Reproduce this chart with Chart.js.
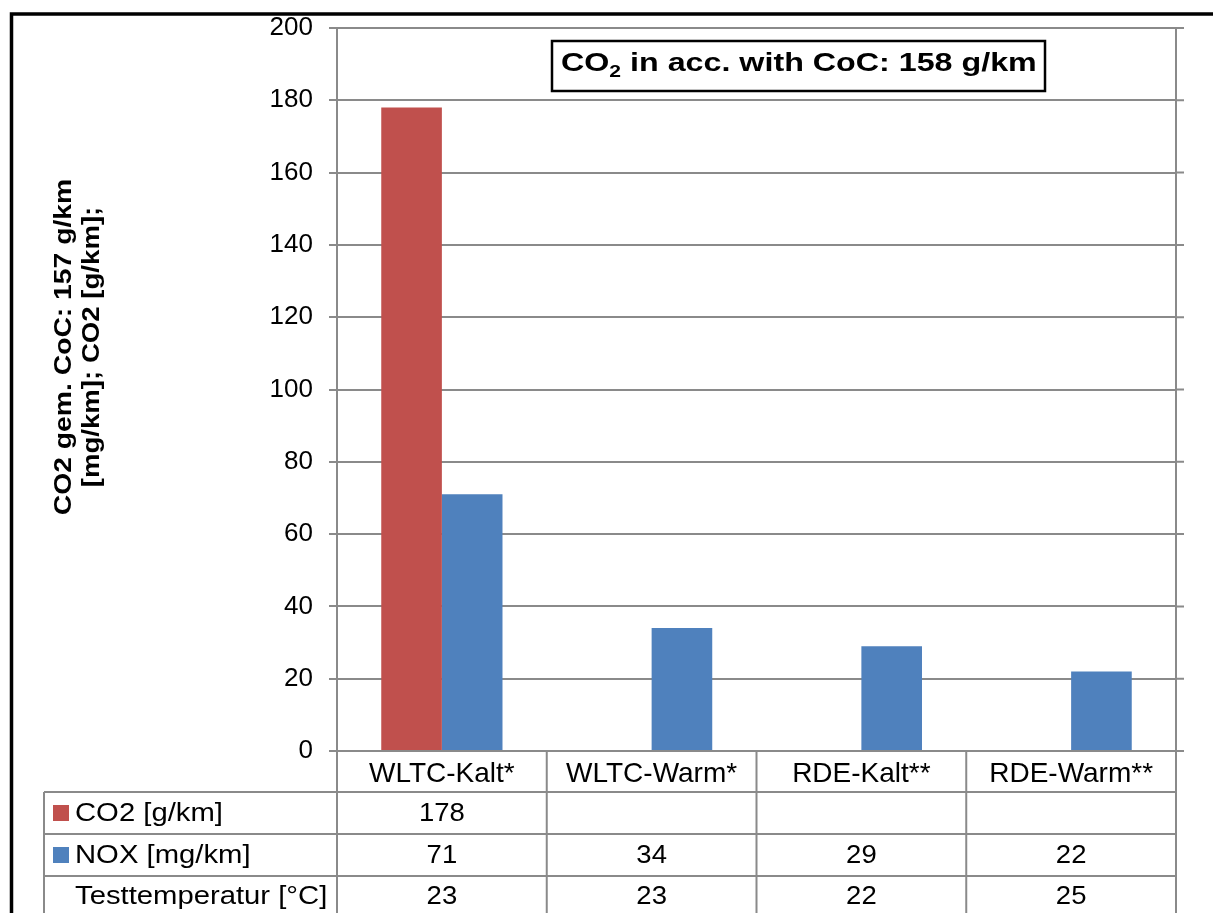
<!DOCTYPE html>
<html>
<head>
<meta charset="utf-8">
<script src="https://cdn.jsdelivr.net/npm/chart.js@4.4.1/dist/chart.umd.min.js"></script>
<style>
  html, body { margin: 0; padding: 0; background: #fff; }
  canvas { display: block; }
</style>
</head>
<body>
<canvas id="chart" width="1213" height="913"></canvas>
<script>
  // ======= Data =======
  const categories = ["WLTC-Kalt*", "WLTC-Warm*", "RDE-Kalt**", "RDE-Warm**"];
  const co2Values  = [178, null, null, null];   // CO2 [g/km]
  const noxValues  = [71, 34, 29, 22];          // NOX [mg/km]
  const testTemps  = [23, 23, 22, 25];          // Testtemperatur [°C]
  const seriesNames = ["CO2 [g/km]", "NOX [mg/km]", "Testtemperatur [°C]"];
  const yAxisTitle = ["CO2 gem. CoC: 157 g/km", "[mg/km]; CO2 [g/km];"];
  const Y_MIN = 0, Y_MAX = 200, Y_STEP = 20;

  // ======= Style =======
  const FONT = "Arial, 'Liberation Sans', sans-serif";
  const RED = "#C0504D";
  const BLUE = "#4F81BD";
  const GRID = "#8a8a8a";

  // text drawn a little wider, like the source picture
  function wideText(ctx, text, x, y, align, sx) {
    ctx.save();
    ctx.translate(x, y);
    ctx.scale(sx, 1);
    ctx.textAlign = align;
    ctx.fillText(text, 0, 0);
    const w = ctx.measureText(text).width * sx;
    ctx.restore();
    return w;
  }

  // Draws frame, data table, axis title and CoC note around the bars
  const extras = {
    id: "extras",
    afterDraw(chart) {
      const { ctx, chartArea: a, scales: { x } } = chart;
      const H = chart.height;
      const colW = (a.right - a.left) / categories.length;
      const rows = [a.bottom, 792, 834, 876];

      ctx.save();
      // outer black frame (cropped)
      ctx.strokeStyle = "#000";
      ctx.lineWidth = 3.5;
      ctx.beginPath();
      ctx.moveTo(1213, 14);
      ctx.lineTo(11.5, 14);
      ctx.lineTo(11.5, H);
      ctx.stroke();

      // right plot border + gridline stubs on the right
      ctx.strokeStyle = GRID;
      ctx.lineWidth = 2;
      ctx.beginPath();
      ctx.moveTo(a.right, a.top);
      ctx.lineTo(a.right, H);
      for (let v = Y_MIN; v <= Y_MAX; v += Y_STEP) {
        const y = chart.scales.y.getPixelForValue(v);
        ctx.moveTo(a.right, y);
        ctx.lineTo(a.right + 8, y);
      }
      // table verticals
      for (let i = 0; i < categories.length; i++) {
        const xl = a.left + i * colW;
        ctx.moveTo(xl, a.bottom);
        ctx.lineTo(xl, H);
      }
      // table horizontals
      for (let r = 1; r < rows.length; r++) {
        ctx.moveTo(44, rows[r]);
        ctx.lineTo(a.right, rows[r]);
      }
      ctx.moveTo(44, rows[1]);
      ctx.lineTo(44, H);
      ctx.stroke();

      // row labels with legend keys
      ctx.font = "25px " + FONT;
      ctx.fillStyle = "#000";
      ctx.textBaseline = "middle";
      const rowMid = [813, 855, 896];
      const keys = [RED, BLUE, null];
      seriesNames.forEach((name, i) => {
        if (keys[i]) {
          ctx.fillStyle = keys[i];
          ctx.fillRect(53, rowMid[i] - 8, 16, 16);
        }
        ctx.fillStyle = "#000";
        wideText(ctx, name, 75, rowMid[i] + 1, "left", 1.17);
      });

      // cell values
      const tableRows = [co2Values, noxValues, testTemps];
      tableRows.forEach((vals, r) => {
        vals.forEach((v, i) => {
          if (v === null) return;
          wideText(ctx, String(v), x.getPixelForValue(i), rowMid[r] + 1, "center", 1.1);
        });
      });

      // y-axis title (two rotated lines)
      ctx.save();
      ctx.translate(0, 347);
      ctx.rotate(-Math.PI / 2);
      ctx.font = "bold 23px " + FONT;
      ctx.textBaseline = "middle";
      wideText(ctx, yAxisTitle[0], 0, 65, "center", 1.23);
      wideText(ctx, yAxisTitle[1], 0, 93, "center", 1.2);
      ctx.restore();

      // CoC note box
      ctx.strokeStyle = "#000";
      ctx.lineWidth = 2.5;
      ctx.fillStyle = "#fff";
      ctx.fillRect(552, 41, 493, 50);
      ctx.strokeRect(552, 41, 493, 50);
      ctx.fillStyle = "#000";
      ctx.textBaseline = "alphabetic";
      const sx = 1.24;
      let tx = 561;
      ctx.font = "bold 26px " + FONT;
      tx += wideText(ctx, "CO", tx, 71, "left", sx);
      ctx.font = "bold 17px " + FONT;
      tx += wideText(ctx, "2", tx, 77, "left", sx);
      ctx.font = "bold 26px " + FONT;
      wideText(ctx, " in acc. with CoC: 158 g/km", tx, 71, "left", sx);
      ctx.restore();
    }
  };

  new Chart(document.getElementById("chart"), {
    type: "bar",
    data: {
      labels: categories,
      datasets: [
        { label: seriesNames[0], data: co2Values, backgroundColor: RED },
        { label: seriesNames[1], data: noxValues, backgroundColor: BLUE }
      ]
    },
    options: {
      responsive: false,
      animation: false,
      categoryPercentage: 0.578,
      barPercentage: 1,
      layout: { padding: { top: 28, right: 37, bottom: 0, left: 0 } },
      plugins: { legend: { display: false }, tooltip: { enabled: false } },
      scales: {
        x: {
          grid: { display: false },
          border: { display: false },
          ticks: {
            color: "#000", font: { family: FONT, size: 28 },
            padding: -2, maxRotation: 0, autoSkip: false
          },
          afterFit: s => { s.height = 162; }
        },
        y: {
          min: Y_MIN, max: Y_MAX,
          grid: { color: GRID, lineWidth: 2, tickLength: 8 },
          border: { color: GRID, width: 2 },
          ticks: {
            stepSize: Y_STEP, color: "#000",
            font: { family: FONT, size: 26 }, padding: 16
          },
          afterFit: s => { s.width = 337; s.paddingTop = 0; s.paddingBottom = 0; }
        }
      }
    },
    plugins: [extras]
  });
</script>
</body>
</html>
